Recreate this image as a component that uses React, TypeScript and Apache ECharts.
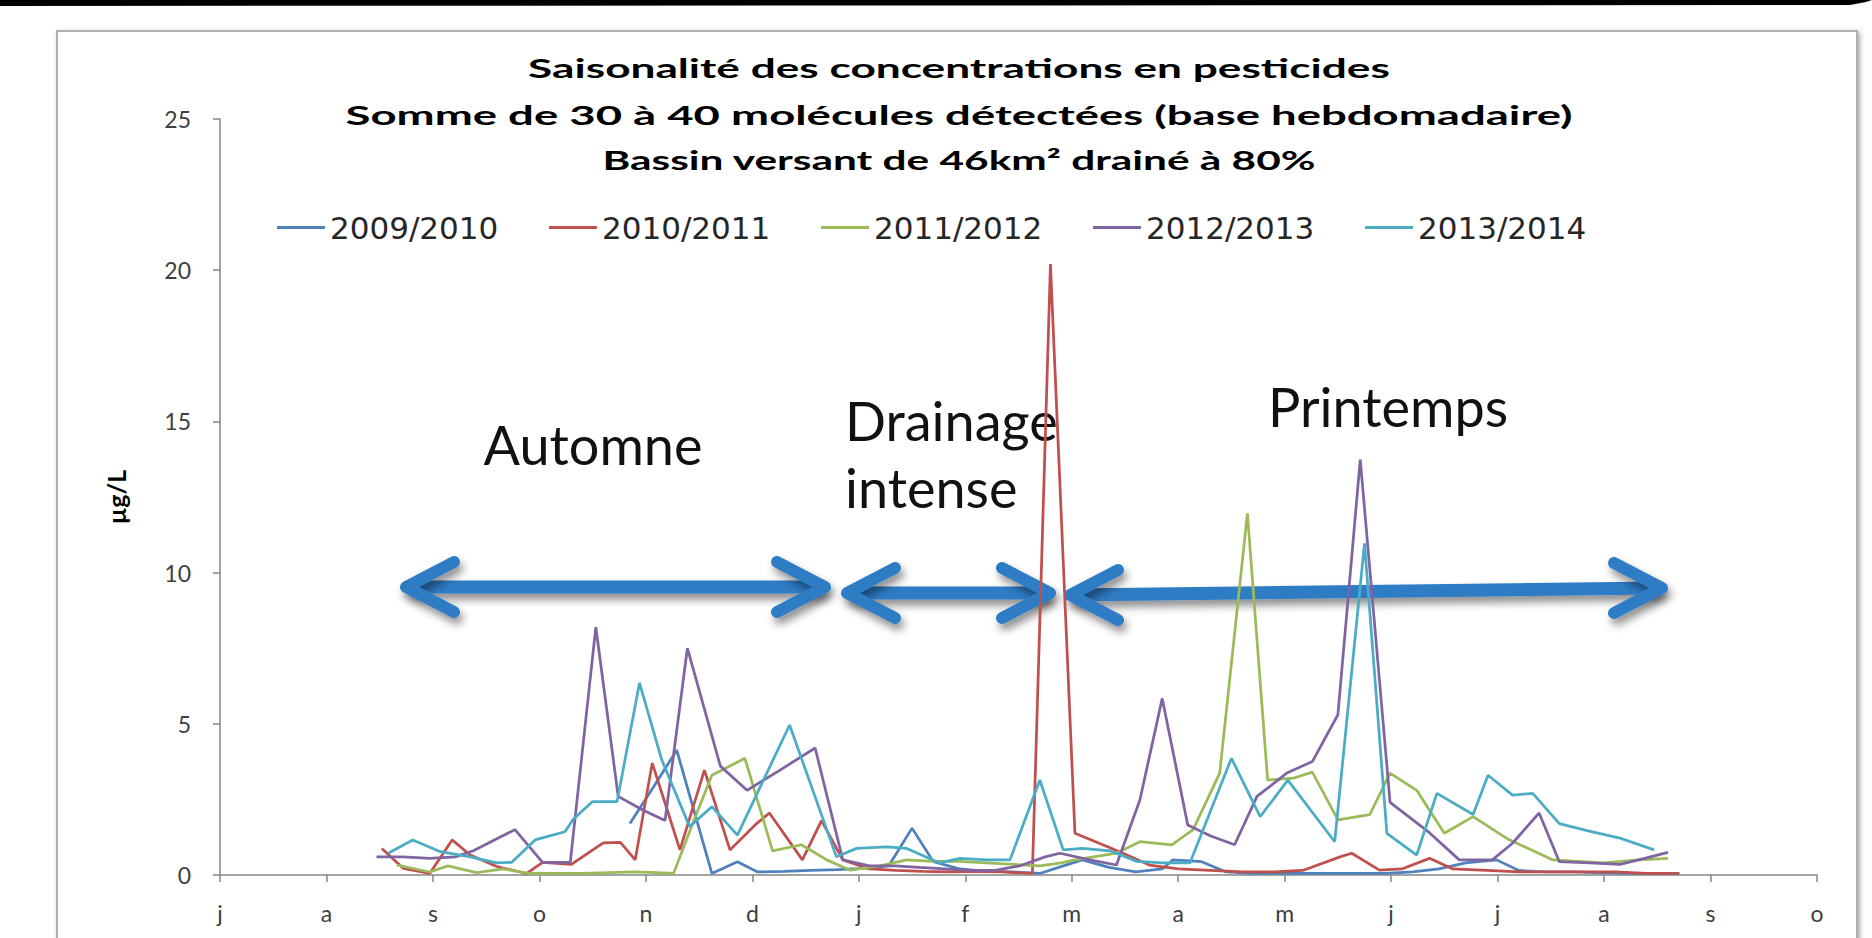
import React, { useEffect, useRef } from "react";
import * as echarts from "echarts";

// x positions are in months counted from 1 July (tick "j" = 0)
const monthLabels = ["j", "a", "s", "o", "n", "d", "j", "f", "m", "a", "m", "j", "j", "a", "s", "o"];
const yTicks = [0, 5, 10, 15, 20, 25];
const seriesNames = ["2009/2010", "2010/2011", "2011/2012", "2012/2013", "2013/2014"];
const seriesColors = ["#4F81BD", "#C0504D", "#9BBB59", "#8064A2", "#4BACC6"];

const s2009: [number, number][] = [
  [3.85, 1.7], [4.07, 2.9], [4.29, 4.13], [4.62, 0.05], [4.86, 0.44], [5.05, 0.1], [5.3, 0.12], [5.55, 0.15],
  [5.8, 0.18], [6.05, 0.22], [6.28, 0.3], [6.5, 1.55], [6.7, 0.44], [6.95, 0.2], [7.2, 0.12], [7.45, 0.1],
  [7.7, 0.05], [7.92, 0.3], [8.1, 0.5], [8.35, 0.25], [8.6, 0.1], [8.85, 0.2], [8.95, 0.5], [9.22, 0.44],
  [9.45, 0.1], [9.7, 0.05], [9.95, 0.05], [10.2, 0.05], [10.45, 0.05], [10.7, 0.05], [10.95, 0.05], [11.2, 0.1],
  [11.45, 0.2], [11.7, 0.4], [11.99, 0.5], [12.2, 0.15], [12.45, 0.1], [12.7, 0.1], [12.95, 0.08], [13.2, 0.05],
  [13.45, 0.05], [13.71, 0.05],
];
const s2010: [number, number][] = [
  [1.52, 0.88], [1.72, 0.22], [1.97, 0.05], [2.18, 1.16], [2.35, 0.66], [2.6, 0.28], [2.88, 0.05], [3.03, 0.42],
  [3.3, 0.35], [3.6, 1.06], [3.76, 1.08], [3.9, 0.5], [4.06, 3.7], [4.18, 2.38], [4.32, 0.83], [4.55, 3.47],
  [4.79, 0.83], [5.04, 1.7], [5.16, 2.05], [5.47, 0.5], [5.65, 1.8], [5.85, 0.5], [6.1, 0.2], [6.35, 0.15],
  [6.6, 0.12], [6.85, 0.1], [7.1, 0.12], [7.35, 0.1], [7.63, 0.05], [7.8, 20.2], [8.03, 1.38], [8.45, 0.77],
  [8.73, 0.33], [9.0, 0.2], [9.3, 0.15], [9.6, 0.1], [9.9, 0.1], [10.17, 0.15], [10.52, 0.6], [10.63, 0.72],
  [10.89, 0.16], [11.1, 0.2], [11.36, 0.55], [11.58, 0.2], [11.9, 0.15], [12.2, 0.1], [12.5, 0.1], [12.8, 0.1],
  [13.1, 0.1], [13.4, 0.05], [13.7, 0.05],
];
const s2011: [number, number][] = [
  [1.66, 0.33], [1.97, 0.1], [2.14, 0.3], [2.41, 0.08], [2.66, 0.2], [2.91, 0.05], [3.15, 0.05], [3.4, 0.05],
  [3.65, 0.08], [3.9, 0.1], [4.1, 0.08], [4.26, 0.05], [4.44, 1.7], [4.62, 3.3], [4.93, 3.86], [5.19, 0.8],
  [5.46, 1.0], [5.7, 0.5], [5.92, 0.16], [6.2, 0.3], [6.45, 0.5], [6.7, 0.45], [6.95, 0.45], [7.2, 0.4],
  [7.45, 0.35], [7.7, 0.3], [7.9, 0.4], [8.03, 0.5], [8.42, 0.72], [8.64, 1.1], [8.94, 1.0], [9.14, 1.5],
  [9.39, 3.37], [9.65, 11.96], [9.84, 3.14], [10.08, 3.2], [10.26, 3.4], [10.5, 1.82], [10.8, 2.0], [10.99, 3.37],
  [11.24, 2.8], [11.5, 1.38], [11.77, 1.93], [12.09, 1.2], [12.52, 0.5], [12.99, 0.4], [13.33, 0.5], [13.6, 0.55],
];
const s2012: [number, number][] = [
  [1.47, 0.6], [1.72, 0.6], [1.97, 0.55], [2.21, 0.6], [2.38, 0.8], [2.6, 1.2], [2.77, 1.5], [3.03, 0.42],
  [3.29, 0.42], [3.53, 8.2], [3.74, 2.6], [3.97, 2.15], [4.18, 1.8], [4.39, 7.5], [4.7, 3.6], [4.95, 2.8],
  [5.26, 3.47], [5.59, 4.2], [5.85, 0.5], [6.1, 0.3], [6.34, 0.3], [6.57, 0.25], [6.81, 0.2], [7.04, 0.15],
  [7.28, 0.15], [7.51, 0.3], [7.75, 0.6], [7.89, 0.72], [8.17, 0.5], [8.42, 0.33], [8.64, 2.48], [8.85, 5.84],
  [9.09, 1.65], [9.3, 1.3], [9.53, 1.0], [9.74, 2.6], [10.02, 3.37], [10.26, 3.75], [10.5, 5.3], [10.71, 13.74],
  [10.99, 2.4], [11.36, 1.4], [11.64, 0.5], [11.95, 0.5], [12.14, 1.05], [12.39, 2.05], [12.58, 0.44], [12.86, 0.4],
  [13.15, 0.35], [13.38, 0.55], [13.6, 0.75],
];
const s2013: [number, number][] = [
  [1.58, 0.72], [1.81, 1.16], [2.07, 0.77], [2.35, 0.6], [2.6, 0.4], [2.74, 0.42], [2.96, 1.16], [3.24, 1.43],
  [3.32, 1.85], [3.5, 2.43], [3.73, 2.43], [3.94, 6.35], [4.15, 3.8], [4.41, 1.6], [4.62, 2.26], [4.86, 1.32],
  [5.35, 4.96], [5.79, 0.6], [5.98, 0.88], [6.26, 0.93], [6.45, 0.88], [6.76, 0.4], [6.95, 0.55], [7.2, 0.5],
  [7.42, 0.5], [7.7, 3.14], [7.92, 0.83], [8.1, 0.88], [8.36, 0.8], [8.61, 0.45], [8.85, 0.4], [9.11, 0.4],
  [9.5, 3.86], [9.77, 1.93], [10.03, 3.14], [10.47, 1.1], [10.75, 10.97], [10.96, 1.38], [11.24, 0.66], [11.43, 2.7],
  [11.77, 2.0], [11.91, 3.3], [12.14, 2.64], [12.33, 2.7], [12.58, 1.7], [12.86, 1.45], [13.15, 1.22], [13.47, 0.83],
];
const seriesData = [s2009, s2010, s2011, s2012, s2013];

const titleLines = [
  "Saisonalité des concentrations en pesticides",
  "Somme de 30 à 40 molécules détectées (base hebdomadaire)",
  "Bassin versant de 46km² drainé à 80%",
];
const periodLabels = ["Automne", "Drainage", "intense", "Printemps"];

const ARROW = "#2E7BC4";

function arrow(x1: number, y1: number, x2: number, y2: number) {
  const shadow = {
    shadowBlur: 8,
    shadowColor: "rgba(0,0,0,0.45)",
    shadowOffsetX: 3,
    shadowOffsetY: 6,
  };
  const strokeStyle = {
    stroke: ARROW,
    lineWidth: 12,
    lineCap: "round",
    lineJoin: "round",
    fill: null,
    ...shadow,
  };
  const h = 6.5;
  return [
    {
      type: "polygon",
      z: 1,
      shape: { points: [[x1 + 2, y1 - h], [x2 - 2, y2 - h], [x2 - 2, y2 + h], [x1 + 2, y1 + h]] },
      style: { fill: ARROW, ...shadow },
    },
    { type: "polyline", z: 1, shape: { points: [[x1 + 48, y1 - 25], [x1, y1], [x1 + 48, y1 + 25]] }, style: strokeStyle },
    { type: "polyline", z: 1, shape: { points: [[x2 - 48, y2 - 25], [x2, y2], [x2 - 48, y2 + 25]] }, style: strokeStyle },
  ];
}

export default function App() {
  const ref = useRef<HTMLDivElement>(null);
  useEffect(() => {
    if (!ref.current) return;
    const chart = echarts.init(ref.current, null, { renderer: "svg" });
    const titleStretch = [1.7, 1.75, 1.63];
    chart.setOption({
      animation: false,
      backgroundColor: "#ffffff",
      grid: { left: 220, right: 55, top: 119, bottom: 63, containLabel: false },
      legend: seriesNames.map((name, i) => ({
        data: [name],
        left: 272 + i * 272,
        top: 207,
        icon: "rect",
        itemWidth: 48,
        itemHeight: 3,
        itemGap: 0,
        textStyle: { fontFamily: "DejaVu Sans", fontSize: 31, color: "#262626", padding: [0, 0, 0, 0] },
      })),
      xAxis: {
        type: "value",
        min: 0,
        max: 15,
        interval: 1,
        axisLine: { show: true, lineStyle: { color: "#868686", width: 1.5 } },
        axisTick: { show: true, length: 7, lineStyle: { color: "#868686", width: 1.5 } },
        splitLine: { show: false },
        axisLabel: {
          margin: 26,
          fontFamily: "Lato",
          fontSize: 23,
          color: "#404040",
          formatter: (v: number) => monthLabels[Math.round(v)] ?? "",
        },
      },
      yAxis: {
        type: "value",
        min: yTicks[0],
        max: yTicks[yTicks.length - 1],
        interval: 5,
        name: "µg/L",
        nameLocation: "middle",
        nameGap: 92,
        nameRotate: 90,
        nameTextStyle: { fontFamily: "Lato", fontWeight: "bold", fontSize: 25, color: "#000" },
        axisLine: { show: true, lineStyle: { color: "#868686", width: 1.5 } },
        axisTick: { show: true, length: 7, lineStyle: { color: "#868686", width: 1.5 } },
        splitLine: { show: false },
        axisLabel: { margin: 29, fontFamily: "Lato", fontSize: 23, color: "#404040" },
      },
      series: seriesNames.map((name, i) => ({
        name,
        type: "line",
        z: 3,
        data: seriesData[i],
        showSymbol: false,
        symbol: "none",
        color: seriesColors[i],
        lineStyle: { width: 2.75, color: seriesColors[i] },
      })),
      graphic: [
        {
          type: "rect",
          z: -10,
          shape: { x: 57, y: 31, width: 1800, height: 940 },
          style: {
            fill: "#ffffff",
            stroke: "#AFAFAF",
            lineWidth: 2,
            shadowBlur: 5,
            shadowColor: "rgba(0,0,0,0.35)",
            shadowOffsetX: 2,
            shadowOffsetY: 2,
          },
        },
        {
          type: "polygon",
          z: 10,
          shape: { points: [[0, 0], [1872, 0], [1866, 2], [1850, 5], [0, 6]] },
          style: { fill: "#000000" },
        },
        ...titleLines.map((t, i) => ({
          type: "text",
          z: 1,
          x: 959,
          y: [68, 115, 160][i],
          scaleX: titleStretch[i],
          style: {
            text: t,
            fontFamily: "Lato",
            fontWeight: "bold",
            fontSize: 26,
            fill: "#000000",
            align: "center",
            verticalAlign: "middle",
          },
        })),
        ...arrow(406, 587, 825, 587),
        ...arrow(847, 593, 1050, 593),
        ...arrow(1070, 595, 1662, 588),
        {
          type: "text",
          z: 1,
          x: 593,
          y: 444,
          style: { text: periodLabels[0], fontFamily: "Lato", fontSize: 54, fill: "#111", align: "center", verticalAlign: "middle" },
        },
        {
          type: "text",
          z: 1,
          x: 845,
          y: 420,
          style: { text: periodLabels[1], fontFamily: "Lato", fontSize: 54, fill: "#111", align: "left", verticalAlign: "middle" },
        },
        {
          type: "text",
          z: 1,
          x: 845,
          y: 487,
          style: { text: periodLabels[2], fontFamily: "Lato", fontSize: 54, fill: "#111", align: "left", verticalAlign: "middle" },
        },
        {
          type: "text",
          z: 1,
          x: 1268,
          y: 406,
          style: { text: periodLabels[3], fontFamily: "Lato", fontSize: 54, fill: "#111", align: "left", verticalAlign: "middle" },
        },
      ],
    });
    return () => chart.dispose();
  }, []);
  return (
    <div
      ref={ref}
      style={{ position: "fixed", left: 0, top: 0, width: 1872, height: 938, background: "#fff" }}
    />
  );
}
